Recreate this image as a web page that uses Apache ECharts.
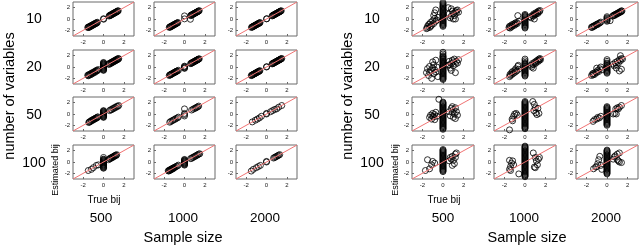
<!DOCTYPE html>
<html><head><meta charset="utf-8">
<script src="https://cdn.jsdelivr.net/npm/echarts@6/dist/echarts.min.js"></script>
<style>html,body{margin:0;padding:0;background:#fff}#c{width:640px;height:247px}</style>
</head><body><div id="c"></div>
<script>
// ---------- data ----------
const rowLabels = ['10', '20', '50', '100'];
const colLabels = ['500', '1000', '2000'];
const tickValues = [-2, 0, 2];
const diagLine = [[-3, -3], [3, 3]];

// Left panel
const L10_500 = [[-1.55,-1.5],[-1.5,-1.42],[-1.45,-1.5],[-1.4,-1.36],[-1.35,-1.4],[-1.3,-1.25],[-1.25,-1.3],[-1.2,-1.15],[-1.15,-1.2],[-1.1,-1.05],[-1.05,-1.1],[-1.0,-0.95],[-0.95,-1.0],[-0.9,-0.85],[-0.85,-0.9],[-0.8,-0.75],[-0.75,-0.8],[-0.7,-0.66],[-0.65,-0.7],[-0.6,-0.58],[0,0.05],[0.02,-0.04],[0.55,0.52],[0.6,0.62],[0.65,0.6],[0.7,0.72],[0.75,0.7],[0.8,0.82],[0.85,0.8],[0.9,0.93],[0.95,0.9],[1.0,1.03],[1.05,1.0],[1.1,1.12],[1.15,1.1],[1.2,1.22],[1.25,1.2],[1.3,1.32],[1.35,1.3],[1.4,1.42],[1.45,1.45]];
const L10_1000 = [[-1.5,-1.48],[-1.45,-1.4],[-1.4,-1.44],[-1.35,-1.3],[-1.3,-1.33],[-1.25,-1.22],[-1.2,-1.2],[-1.15,-1.1],[-1.1,-1.12],[-1.05,-1.0],[-1.0,-1.02],[-0.95,-0.92],[-0.9,-0.9],[-0.85,-0.82],[-0.8,-0.8],[-0.75,-0.72],[-0.7,-0.7],[-0.65,-0.62],[0,0.55],[0,0.02],[0.58,-0.05],[0.6,0.6],[0.65,0.66],[0.7,0.7],[0.75,0.76],[0.8,0.8],[0.85,0.86],[0.9,0.9],[0.95,0.96],[1.0,1.0],[1.05,1.06],[1.1,1.1],[1.15,1.16],[1.2,1.2],[1.25,1.26],[1.3,1.3],[1.35,1.36],[1.4,1.4],[1.45,1.48]];
const L10_2000 = [[-1.48,-1.5],[-1.43,-1.42],[-1.38,-1.4],[-1.33,-1.32],[-1.28,-1.3],[-1.23,-1.22],[-1.18,-1.2],[-1.13,-1.12],[-1.08,-1.1],[-1.03,-1.02],[-0.98,-1.0],[-0.93,-0.92],[-0.88,-0.9],[-0.83,-0.82],[-0.78,-0.8],[-0.73,-0.72],[-0.68,-0.7],[-0.63,-0.62],[0,0.02],[0.03,0.05],[0.55,0.55],[0.6,0.58],[0.65,0.66],[0.7,0.69],[0.75,0.76],[0.8,0.79],[0.85,0.86],[0.9,0.89],[0.95,0.96],[1.0,0.99],[1.05,1.06],[1.1,1.09],[1.15,1.16],[1.2,1.19],[1.25,1.26],[1.3,1.29],[1.35,1.36],[1.4,1.39],[1.45,1.46]];
const L20_500 = [[-1.55,-1.45],[-1.5,-1.55],[-1.45,-1.35],[-1.4,-1.45],[-1.3,-1.25],[-1.25,-1.35],[-1.2,-1.1],[-1.1,-1.2],[-1.05,-0.95],[-1.0,-1.05],[-0.9,-0.85],[-0.85,-0.95],[-0.8,-0.7],[-0.7,-0.75],[-0.65,-0.55],[-0.6,-0.65],[-0.5,-0.45],[0,-0.6],[0,-0.5],[0,-0.4],[0,-0.3],[0,-0.2],[0,-0.1],[0,0],[0,0.1],[0,0.2],[0,0.3],[0,0.4],[0,0.5],[0,0.6],[0,0.7],[0,0.8],[0.5,0.55],[0.55,0.45],[0.6,0.65],[0.7,0.6],[0.75,0.8],[0.8,0.72],[0.85,0.9],[0.9,0.82],[0.95,1.0],[1.0,0.92],[1.05,1.1],[1.1,1.02],[1.15,1.2],[1.2,1.12],[1.25,1.3],[1.3,1.22],[1.35,1.4],[1.4,1.32],[1.45,1.5],[1.5,1.45]];
const L20_1000 = [[-1.5,-1.5],[-1.45,-1.42],[-1.4,-1.38],[-1.35,-1.32],[-1.3,-1.3],[-1.25,-1.22],[-1.2,-1.18],[-1.1,-1.1],[-1.05,-1.02],[-1.0,-0.98],[-0.95,-0.92],[-0.9,-0.9],[-0.85,-0.82],[-0.8,-0.78],[-0.75,-0.72],[-0.7,-0.7],[-0.6,-0.58],[0,-0.25],[0,-0.15],[0,-0.05],[0,0.05],[0,0.15],[0.6,0.6],[0.65,0.62],[0.7,0.72],[0.75,0.75],[0.8,0.8],[0.85,0.82],[0.9,0.92],[0.95,0.95],[1.0,1.0],[1.05,1.02],[1.1,1.12],[1.15,1.15],[1.2,1.2],[1.25,1.22],[1.3,1.32],[1.35,1.35],[1.4,1.4],[1.45,1.45]];
const L20_2000 = [[-1.5,-1.52],[-1.45,-1.45],[-1.4,-1.42],[-1.35,-1.35],[-1.3,-1.32],[-1.25,-1.25],[-1.2,-1.22],[-1.15,-1.15],[-1.1,-1.12],[-1.05,-1.05],[-1.0,-1.02],[-0.95,-0.95],[-0.9,-0.92],[-0.85,-0.85],[-0.8,-0.82],[-0.75,-0.75],[-0.7,-0.72],[-0.65,-0.65],[0,0],[0.02,0.06],[0.55,0.55],[0.6,0.6],[0.65,0.63],[0.7,0.7],[0.75,0.74],[0.8,0.8],[0.85,0.84],[0.9,0.9],[0.95,0.94],[1.0,1.0],[1.05,1.04],[1.1,1.1],[1.15,1.14],[1.2,1.2],[1.25,1.24],[1.3,1.3],[1.35,1.34],[1.4,1.4],[1.45,1.45],[1.5,1.5]];
const L50_500 = [[-1.45,-1.5],[-1.4,-1.42],[-1.35,-1.35],[-1.25,-1.3],[-1.2,-1.18],[-1.15,-1.1],[-1.05,-1.1],[-1.0,-0.98],[-0.95,-0.9],[-0.85,-0.9],[-0.8,-0.78],[-0.75,-0.7],[-0.65,-0.7],[-0.6,-0.58],[-0.55,-0.5],[0,-0.6],[0,-0.5],[0,-0.4],[0,-0.3],[0,-0.2],[0,-0.1],[0,0],[0,0.1],[0,0.2],[0,0.3],[0,0.4],[0,0.5],[0,0.6],[0.6,0.6],[0.7,0.75],[0.8,0.75],[0.9,0.95],[1.0,0.95],[1.1,1.15],[1.2,1.15],[1.3,1.35],[1.4,1.35],[1.5,1.5]];
const L50_1000 = [[-1.45,-1.45],[-1.35,-1.3],[-1.2,-1.2],[-1.1,-1.05],[-0.95,-0.95],[-0.85,-0.8],[-0.7,-0.7],[-0.6,-0.55],[0,0.9],[0,0.1],[0,-0.1],[0,-0.35],[0.7,0.7],[0.85,0.85],[1.0,1.0],[1.1,1.05],[1.2,1.2],[1.3,1.25],[1.4,1.4]];
const L50_2000 = [[-1.4,-1.4],[-1.1,-1.1],[-0.9,-0.9],[-0.7,-0.7],[-0.5,-0.4],[0,0],[0,0.1],[0.4,0.4],[0.6,0.6],[0.8,0.8],[1.0,0.9],[1.2,1.2],[1.5,1.5]];
const L100_500 = [[-1.5,-1.5],[-1.2,-1.3],[-1.0,-1.0],[-0.7,-0.6],[-0.5,-0.5],[0,-1.1],[0,-1.0],[0,-0.9],[0,-0.8],[0,-0.7],[0,-0.6],[0,-0.5],[0,-0.4],[0,-0.3],[0,-0.2],[0,-0.1],[0,0],[0,0.1],[0,0.2],[0,0.3],[0,0.4],[0,0.5],[0,0.8],[0.5,0.4],[0.6,0.6],[0.65,0.55],[0.7,0.7],[0.8,0.8],[0.85,0.75],[0.9,0.9],[1.0,0.9],[1.05,1.05],[1.1,1.1],[1.2,1.2],[1.25,1.15],[1.3,1.3]];
const L100_1000 = [[-1.6,-1.55],[-1.55,-1.6],[-1.5,-1.45],[-1.45,-1.5],[-1.4,-1.35],[-1.35,-1.4],[-1.3,-1.25],[-1.25,-1.3],[-1.2,-1.15],[-1.15,-1.2],[-1.1,-1.05],[-1.05,-1.1],[-1.0,-0.95],[-0.9,-0.9],[-0.8,-0.75],[-0.7,-0.7],[-0.6,-0.55],[0,-0.55],[0,-0.45],[0,-0.35],[0,-0.25],[0,-0.15],[0,-0.05],[0,0.05],[0,0.15],[0,0.25],[0,0.35],[0,0.45],[0.6,0.6],[0.7,0.65],[0.8,0.8],[0.9,0.85],[1.0,1.0],[1.1,1.05],[1.2,1.2],[1.3,1.25],[1.4,1.4],[1.5,1.45]];
const L100_2000 = [[-1.5,-1.6],[-1.3,-1.3],[-1.0,-1.0],[-0.8,-0.8],[-0.6,-0.6],[0,0],[0,0.1],[0.7,0.7],[0.8,0.8],[0.9,0.9],[1.0,1.0],[1.1,1.1],[1.2,1.2],[1.3,1.3]];

// Right panel
const R10_500 = [[0,-1.3],[0,-1.15],[0,-1.0],[0,-0.85],[0,-0.7],[0,-0.55],[0,-0.4],[0,-0.25],[0,-0.1],[0,0.05],[0,0.2],[0,0.35],[0,0.5],[0,0.65],[0,0.8],[0,0.95],[0,1.1],[0,1.25],[0,1.4],[0,1.55],[0,1.7],[0,1.85],[0,2.0],[0,2.15],[0,2.3],[0,2.5],[0,2.7],[0,2.9],[-1.6,-1.7],[-1.5,-1.3],[-1.4,-1.0],[-1.3,-1.5],[-1.2,-0.6],[-1.1,-1.1],[-1.0,-0.3],[-0.9,-0.8],[-0.8,0.1],[-0.7,-0.4],[-0.9,0.6],[-0.8,1.1],[-0.7,1.6],[-0.6,-0.2],[-1.3,-0.9],[-1.5,-1.6],[-0.5,0.3],[-1.2,-1.3],[0.5,2.0],[0.6,0.9],[0.7,0.2],[0.8,0.5],[0.9,1.4],[1.0,0.0],[1.0,1.0],[1.1,0.6],[1.2,1.3],[1.3,1.5],[1.4,1.6],[1.2,0.0],[1.5,1.2],[0.8,1.8],[1.3,1.1]];
const R10_1000 = [[-1.55,-1.5],[-1.5,-1.3],[-1.45,-1.6],[-1.4,-1.2],[-1.3,-1.4],[-1.25,-1.0],[-1.2,-1.2],[-1.1,-0.9],[-1.0,-1.1],[-0.95,-0.7],[-0.9,-0.9],[-0.8,-0.6],[-0.75,-0.8],[-0.7,0.6],[-0.6,-0.4],[0,-1.6],[0,-1.45],[0,-1.3],[0,-1.15],[0,-1.0],[0,-0.85],[0,-0.7],[0,-0.55],[0,-0.4],[0,-0.25],[0,-0.1],[0,0.05],[0,0.2],[0,0.35],[0,0.5],[0,0.65],[0,0.8],[0.5,0.4],[0.6,0.2],[0.7,0.6],[0.8,0.5],[0.85,0.9],[0.9,0.7],[1.0,0.8],[1.05,1.1],[1.1,0.9],[1.2,1.2],[1.25,1.0],[1.3,1.4],[1.4,1.3],[1.45,1.5],[0.9,0.0]];
const R10_2000 = [[-1.5,-1.45],[-1.45,-1.5],[-1.4,-1.35],[-1.3,-1.3],[-1.25,-1.2],[-1.2,-1.25],[-1.1,-1.05],[-1.0,-1.0],[-0.95,-0.9],[-0.9,-0.95],[-0.8,-0.75],[-0.7,-0.7],[-0.6,-0.55],[0,-0.4],[0,-0.25],[0,-0.1],[0,0.05],[0,0.2],[0,0.4],[0.3,-0.3],[0.55,0.5],[0.6,0.6],[0.7,0.7],[0.75,0.65],[0.8,0.8],[0.9,0.9],[0.95,0.85],[1.0,1.0],[1.1,1.1],[1.15,1.05],[1.2,1.2],[1.3,1.3],[1.35,1.25],[1.4,1.45],[1.45,1.4]];
const R20_500 = [[0,-2.2],[0,-2.05],[0,-1.9],[0,-1.75],[0,-1.6],[0,-1.45],[0,-1.3],[0,-1.15],[0,-1.0],[0,-0.85],[0,-0.7],[0,-0.55],[0,-0.4],[0,-0.25],[0,-0.1],[0,0.05],[0,0.2],[0,0.35],[0,0.5],[0,0.65],[0,0.8],[0,0.95],[0,1.1],[0,1.25],[0,1.4],[0,1.55],[0,1.7],[0,1.85],[0,2.0],[0,2.3],[0,2.6],[-1.6,-1.0],[-1.5,-0.3],[-1.4,-1.5],[-1.3,0.1],[-1.2,-0.6],[-1.1,-2.0],[-1.0,-0.2],[-0.9,0.4],[-0.9,-1.2],[-0.8,-0.5],[-0.7,1.2],[-0.7,-0.9],[-0.6,0.0],[-0.5,-1.7],[-1.3,-0.9],[-1.0,0.9],[0.5,0.3],[0.6,1.0],[0.7,-0.2],[0.8,0.6],[0.9,1.2],[1.0,0.2],[1.0,0.9],[1.1,1.4],[1.2,0.5],[1.2,-1.0],[1.3,1.0],[1.4,0.7],[0.8,-0.6],[1.5,1.3],[0.6,0.4]];
const R20_1000 = [[0,-1.6],[0,-1.45],[0,-1.3],[0,-1.15],[0,-1.0],[0,-0.85],[0,-0.7],[0,-0.55],[0,-0.4],[0,-0.25],[0,-0.1],[0,0.05],[0,0.2],[0,0.35],[0,0.5],[0,0.65],[0,0.8],[0,1.1],[0,1.4],[-1.5,-1.7],[-1.45,-1.3],[-1.4,-1.5],[-1.3,-1.0],[-1.25,-1.3],[-1.2,-0.8],[-1.1,-1.1],[-1.0,-0.6],[-0.95,-0.9],[-0.9,-0.3],[-0.8,-0.7],[-0.7,0.1],[-0.6,-0.4],[-0.65,0.3],[0.6,0.3],[0.65,0.0],[0.7,0.6],[0.8,0.4],[0.9,0.8],[1.0,0.6],[1.05,1.0],[1.1,0.8],[1.2,1.2],[1.3,1.0],[1.35,1.4],[1.4,1.2],[1.45,1.5],[0.8,-0.2],[1.5,1.3]];
const R20_2000 = [[0,-1.1],[0,-0.95],[0,-0.8],[0,-0.65],[0,-0.5],[0,-0.35],[0,-0.2],[0,-0.05],[0,0.1],[0,0.25],[0,0.4],[0,0.55],[0,0.7],[0,1.0],[0,1.3],[-1.5,-1.5],[-1.4,-1.2],[-1.35,-1.4],[-1.3,-1.1],[-1.2,-1.3],[-1.1,-0.9],[-1.0,-1.0],[-0.9,-0.6],[-0.8,-0.8],[-0.7,-0.3],[-0.6,0.0],[-1.0,-0.2],[-0.5,-0.5],[0.6,0.5],[0.7,0.2],[0.8,0.8],[0.9,0.4],[1.0,1.0],[1.1,0.7],[1.2,1.3],[1.3,1.1],[1.4,1.5],[1.2,-0.7],[1.4,-0.4],[1.3,2.0],[0.9,-0.2],[1.5,1.4]];
const R50_500 = [[0,-2.7],[0,-2.55],[0,-2.4],[0,-2.25],[0,-2.1],[0,-1.95],[0,-1.8],[0,-1.65],[0,-1.5],[0,-1.35],[0,-1.2],[0,-1.05],[0,-0.9],[0,-0.75],[0,-0.6],[0,-0.45],[0,-0.3],[0,-0.15],[0,0.0],[0,0.15],[0,0.3],[0,0.45],[0,0.6],[0,0.75],[0,0.9],[0,1.05],[0,1.2],[0,1.35],[0,1.5],[0,1.65],[0,1.8],[0,1.95],[0,2.1],[-0.4,2.6],[-1.3,-0.6],[-1.2,-0.2],[-1.1,-0.9],[-1.0,0.1],[-0.9,-0.5],[-0.8,-0.1],[-0.8,-1.0],[-0.7,0.3],[-0.6,-0.4],[-1.0,-0.4],[0.6,0.4],[0.7,-0.3],[0.8,1.0],[0.9,0.3],[1.0,-0.6],[1.0,0.8],[1.1,0.0],[1.2,1.1],[1.3,0.4],[1.4,-0.2],[1.2,-0.8],[0.9,1.3]];
const R50_1000 = [[0,-2.6],[0,-2.45],[0,-2.3],[0,-2.15],[0,-2.0],[0,-1.85],[0,-1.7],[0,-1.55],[0,-1.4],[0,-1.25],[0,-1.1],[0,-0.95],[0,-0.8],[0,-0.65],[0,-0.5],[0,-0.35],[0,-0.2],[0,-0.05],[0,0.1],[0,0.25],[0,0.4],[0,0.55],[0,0.7],[0,0.85],[0,1.0],[0,1.15],[0,1.3],[0,1.45],[0,1.6],[0,1.75],[0,1.9],[0,2.05],[0,2.2],[-1.5,-2.8],[-1.25,-0.9],[-1.1,-0.4],[-1.0,0.0],[-0.85,0.1],[-0.75,-0.2],[-1.2,-1.2],[0.75,2.2],[0.9,1.7],[1.0,1.1],[1.05,0.2],[1.15,-0.1],[1.25,1.0],[0.85,0.6],[1.35,0.1]];
const R50_2000 = [[0,-2.0],[0,-1.85],[0,-1.7],[0,-1.55],[0,-1.4],[0,-1.25],[0,-1.1],[0,-0.95],[0,-0.8],[0,-0.65],[0,-0.5],[0,-0.35],[0,-0.2],[0,-0.05],[0,0.1],[0,0.25],[0,0.4],[0,0.55],[0,0.7],[0,0.85],[0,1.0],[0,1.15],[0,1.3],[-1.35,-1.3],[-1.2,-1.0],[-1.0,-0.9],[-0.9,-0.6],[-0.75,-0.7],[-0.6,-0.4],[0.6,0.0],[0.75,0.1],[0.9,0.0],[0.85,0.9],[1.0,1.1],[1.2,1.2],[1.4,1.5],[1.1,0.9]];
const R100_500 = [[0,-1.7],[0,-1.55],[0,-1.4],[0,-1.25],[0,-1.1],[0,-0.95],[0,-0.8],[0,-0.65],[0,-0.5],[0,-0.35],[0,-0.2],[0,-0.05],[0,0.1],[0,0.25],[0,0.4],[0,0.55],[0,0.7],[0,0.85],[0,1.0],[0,1.15],[0,1.3],[0,1.45],[0,1.6],[0,1.75],[0,1.9],[0,2.05],[0,2.2],[-1.5,0.4],[-1.0,0.1],[-1.3,-1.2],[-1.7,-1.5],[-0.8,-0.2],[-1.1,-0.5],[0.6,0.2],[0.7,0.8],[0.8,0.5],[0.9,1.0],[1.0,0.3],[1.1,-0.3],[1.2,1.4],[1.3,1.6],[0.9,-0.6],[1.2,0.8]];
const R100_1000 = [[0,-2.6],[0,-2.45],[0,-2.3],[0,-2.15],[0,-2.0],[0,-1.85],[0,-1.7],[0,-1.55],[0,-1.4],[0,-1.25],[0,-1.1],[0,-0.95],[0,-0.8],[0,-0.65],[0,-0.5],[0,-0.35],[0,-0.2],[0,-0.05],[0,0.1],[0,0.25],[0,0.4],[0,0.55],[0,0.7],[0,0.85],[0,1.0],[0,1.15],[0,1.3],[0,1.45],[0,1.6],[0,1.75],[0,1.9],[0,2.05],[0,2.2],[0,2.35],[0,2.5],[0,2.65],[0,2.8],[-1.5,-1.3],[-1.4,-0.8],[-1.3,-0.2],[-1.2,0.2],[-1.5,0.3],[-1.1,-0.5],[-1.4,-1.5],[-0.6,-2.1],[0.8,1.6],[1.0,0.8],[1.1,0.2],[1.2,-0.5],[1.3,0.5],[0.9,-0.9],[1.0,-1.0],[1.4,0.8]];
const R100_2000 = [[0,-2.1],[0,-1.95],[0,-1.8],[0,-1.65],[0,-1.5],[0,-1.35],[0,-1.2],[0,-1.05],[0,-0.9],[0,-0.75],[0,-0.6],[0,-0.45],[0,-0.3],[0,-0.15],[0,0.0],[0,0.15],[0,0.3],[0,0.45],[0,0.6],[0,0.75],[0,0.9],[0,1.05],[0,1.2],[0,1.35],[0,1.5],[0,1.65],[0,1.8],[0,1.95],[0,2.1],[-1.3,-1.2],[-1.0,-0.8],[-0.9,-0.3],[-0.8,0.4],[-0.7,1.0],[-0.6,-0.6],[-0.5,-1.3],[-1.1,-0.9],[0.6,0.5],[0.8,1.1],[1.0,1.4],[1.2,1.6],[1.0,0.4],[1.2,0.0],[1.4,-0.1],[0.7,0.9],[1.1,0.2]];

const leftPanel = [[L10_500, L10_1000, L10_2000],[L20_500, L20_1000, L20_2000],[L50_500, L50_1000, L50_2000],[L100_500, L100_1000, L100_2000]];
const rightPanel = [[R10_500, R10_1000, R10_2000],[R20_500, R20_1000, R20_2000],[R50_500, R50_1000, R50_2000],[R100_500, R100_1000, R100_2000]];

// ---------- layout ----------
const panels = [
  { data: leftPanel, colLeft: [73, 154, 236], w: 61 },
  { data: rightPanel, colLeft: [412, 494, 576], w: 62 }
];
const rowTop = [2, 50, 97, 145];
const boxH = 34;
const FONT = '"Liberation Sans", Arial, Helvetica, sans-serif';

const grid = [], xAxis = [], yAxis = [], series = [];
let gi = 0;
panels.forEach(p => {
  for (let r = 0; r < 4; r++) {
    for (let c = 0; c < 3; c++) {
      grid.push({ left: p.colLeft[c], top: rowTop[r], width: p.w, height: boxH, show: true, borderColor: '#6a6a6a', borderWidth: 1, backgroundColor: '#fff' });
      const mk = (margin) => ({
        gridIndex: gi, type: 'value', min: -3, max: 3,
        axisLine: { show: false, onZero: false }, splitLine: { show: false },
        axisTick: { show: true, inside: true, length: 2, customValues: tickValues, lineStyle: { color: '#6a6a6a', width: 1 } },
        axisLabel: { show: true, customValues: tickValues, fontSize: 6, color: '#222', margin: margin, fontFamily: FONT }
      });
      xAxis.push(mk(3));
      yAxis.push(mk(3));
      series.push({ type: 'scatter', xAxisIndex: gi, yAxisIndex: gi, data: p.data[r][c], symbol: 'circle', symbolSize: 6, silent: true, z: 2,
        itemStyle: { color: 'rgba(0,0,0,0)', borderColor: '#000', borderWidth: 1 } });
      series.push({ type: 'line', xAxisIndex: gi, yAxisIndex: gi, data: diagLine, symbol: 'none', silent: true, z: 3,
        lineStyle: { color: '#f07373', width: 1 } });
      gi++;
    }
  }
});

function txt(t, x, y, size, rot) {
  return { type: 'text', x: x, y: y, rotation: rot || 0, silent: true,
    style: { text: t, font: 'normal ' + size + 'px ' + FONT, fill: '#000',
      textAlign: 'center', textVerticalAlign: 'middle', align: 'center', verticalAlign: 'middle' } };
}
const graphic = [];
const rowY = [19, 67, 115, 163];
const colX = [[101, 183, 265], [443, 524, 606]];
[0, 1].forEach(k => {
  const dx = k === 0 ? 0 : 338;
  graphic.push(txt('number of variables', 10 + dx, 96, 14.5, Math.PI / 2));
  rowLabels.forEach((t, i) => graphic.push(txt(t, 34 + dx, rowY[i], 14)));
  colLabels.forEach((t, i) => graphic.push(txt(t, colX[k][i], 218, 13.5)));
  graphic.push(txt('Sample size', k === 0 ? 183 : 527, 238, 14.5));
  graphic.push(txt('Estimated bij', (k === 0 ? 56 : 396), 170, 9, Math.PI / 2));
  graphic.push(txt('True bij', (k === 0 ? 104 : 444), 200, 10));
});

const chart = echarts.init(document.getElementById('c'), null, { renderer: 'canvas' });
chart.setOption({ animation: false, backgroundColor: '#fff', grid, xAxis, yAxis, series, graphic });
</script>
</body></html>
